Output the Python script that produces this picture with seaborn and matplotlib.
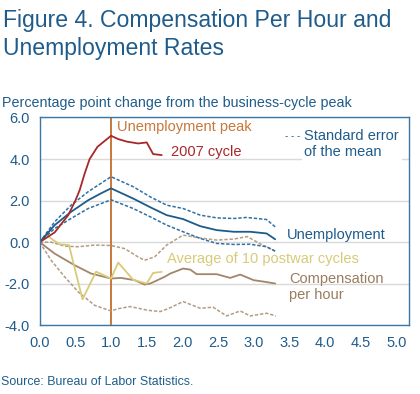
import matplotlib
matplotlib.use("Agg")
import matplotlib.pyplot as plt
import seaborn as sns

# unemployment, 2007 cycle
red_x = [0, 0.21, 0.40, 0.50, 0.56, 0.63, 0.70, 0.81, 1.0, 1.10, 1.22, 1.38, 1.50, 1.59, 1.71]
red_y = [0, 0.47, 1.30, 2.00, 2.50, 3.30, 4.00, 4.59, 5.12, 4.96, 4.84, 4.75, 4.80, 4.24, 4.19]

# unemployment, average of 10 postwar cycles (+/- standard error)
unemp_x = [0, 0.21, 0.44, 0.68, 0.86, 1.0, 1.31, 1.55, 1.78, 2.01, 2.25, 2.48, 2.72, 2.95, 3.18, 3.30]
unemp_y = [0, 0.82, 1.46, 2.02, 2.35, 2.59, 2.10, 1.68, 1.30, 1.11, 0.77, 0.58, 0.50, 0.50, 0.42, 0.14]
unemp_hi_x = [0, 0.21, 0.44, 0.68, 1.0, 1.31, 1.55, 1.78, 2.01, 2.25, 2.48, 2.72, 2.90, 3.18, 3.30]
unemp_hi_y = [0, 0.98, 1.78, 2.43, 3.15, 2.67, 2.18, 1.78, 1.62, 1.30, 1.17, 1.14, 1.19, 1.09, 0.74]
unemp_lo_x = [0, 0.21, 0.44, 0.68, 1.0, 1.31, 1.55, 1.78, 2.01, 2.25, 2.48, 2.72, 2.95, 3.18, 3.30]
unemp_lo_y = [0, 0.66, 1.14, 1.62, 2.04, 1.62, 1.22, 0.82, 0.50, 0.18, -0.06, -0.11, -0.10, -0.22, -0.43]

# compensation per hour, 2007 cycle
yel_x = [0, 0.09, 0.19, 0.28, 0.41, 0.60, 0.79, 1.0, 1.10, 1.31, 1.50, 1.59, 1.71]
yel_y = [0, 0.36, 0.10, -0.10, -0.14, -2.75, -1.42, -1.75, -0.98, -1.81, -1.99, -1.48, -1.43]

# compensation per hour, average (+/- standard error)
comp_x = [0, 0.21, 0.49, 0.72, 1.0, 1.14, 1.33, 1.47, 1.55, 1.75, 1.83, 2.01, 2.11, 2.20, 2.48, 2.67, 2.81, 3.0, 3.16, 3.30]
comp_y = [0, -0.55, -1.11, -1.51, -1.75, -1.72, -1.83, -2.04, -1.99, -1.67, -1.51, -1.27, -1.32, -1.54, -1.54, -1.72, -1.56, -1.83, -1.91, -1.99]
comp_hi_x = [0, 0.16, 0.35, 0.54, 0.77, 1.0, 1.19, 1.38, 1.47, 1.61, 1.78, 2.01, 2.25, 2.48, 2.72, 2.91, 3.09, 3.30]
comp_hi_y = [0, 0.0, -0.19, -0.22, -0.14, -0.16, -0.31, -0.71, -0.87, -0.71, -0.14, 0.34, 0.20, 0.10, 0.15, 0.27, -0.08, -0.43]
comp_lo_x = [0, 0.16, 0.35, 0.54, 0.77, 1.0, 1.10, 1.27, 1.52, 1.69, 1.80, 2.01, 2.25, 2.43, 2.62, 2.81, 2.95, 3.18, 3.31]
comp_lo_y = [0, -0.87, -1.67, -2.39, -3.04, -3.31, -3.20, -3.10, -3.28, -3.34, -3.20, -2.86, -3.18, -3.13, -3.55, -3.31, -3.55, -3.42, -3.55]

x_ticks = [0.0, 0.5, 1.0, 1.5, 2.0, 2.5, 3.0, 3.5, 4.0, 4.5, 5.0]
y_ticks = [-4.0, -2.0, 0.0, 2.0, 4.0, 6.0]

BLUE_TXT = "#1f5c8b"
SPINE = "#3a76a6"
RED = "#a8282a"
ORANGE = "#c8783a"
BLUE = "#1d5b8a"
BLUE_D = "#2f70a6"
YELLOW = "#d8cb78"
BROWN = "#a2866a"
BROWN_D = "#b39c82"

sns.set_style("white")
plt.rcParams["font.family"] = ["Liberation Sans", "DejaVu Sans"]

fig = plt.figure(figsize=(4.2, 3.94), dpi=100)
ax = fig.add_axes([0.0945, 0.1744, 0.88, 0.5274])

dash = (0, (2.2, 1.2))
ax.axvline(1.0, color=ORANGE, lw=1.4, zorder=1)
sns.lineplot(x=comp_lo_x, y=comp_lo_y, ax=ax, color=BROWN_D, lw=1.1, linestyle=dash)
sns.lineplot(x=comp_hi_x, y=comp_hi_y, ax=ax, color=BROWN_D, lw=1.1, linestyle=dash)
sns.lineplot(x=comp_x, y=comp_y, ax=ax, color=BROWN, lw=1.3)
sns.lineplot(x=yel_x, y=yel_y, ax=ax, color=YELLOW, lw=1.3)
sns.lineplot(x=unemp_hi_x, y=unemp_hi_y, ax=ax, color=BLUE_D, lw=1.1, linestyle=dash)
sns.lineplot(x=unemp_lo_x, y=unemp_lo_y, ax=ax, color=BLUE_D, lw=1.1, linestyle=dash)
sns.lineplot(x=unemp_x, y=unemp_y, ax=ax, color=BLUE, lw=1.3)
sns.lineplot(x=red_x, y=red_y, ax=ax, color=RED, lw=1.3)

ax.set_xlim(0, 5.18)
ax.set_ylim(-4, 6)
ax.set_xticks(x_ticks)
ax.set_yticks(y_ticks)
ax.set_xticklabels([f"{v:.1f}" for v in x_ticks])
ax.set_yticklabels([f"{v:.1f}" for v in y_ticks])
ax.tick_params(direction="in", length=5, width=1, color=SPINE, labelcolor=BLUE_TXT,
               labelsize=10.5)
ax.tick_params(axis="x", pad=8)
ax.tick_params(axis="y", pad=7)
ax.yaxis.grid(True, color="#d9d9d9", lw=1)
ax.set_axisbelow(True)
for s in ax.spines.values():
    s.set_color(SPINE)
    s.set_linewidth(1)
ax.set_xlabel("")
ax.set_ylabel("")

# labels inside the plot
fs = 10.5
ax.text(1.08, 5.52, "Unemployment peak", color=ORANGE, fontsize=fs, va="center")
ax.text(1.835, 4.32, "2007 cycle", color=RED, fontsize=fs, va="center")
ax.text(3.44, 5.12, "- - -", color=BLUE_TXT, fontsize=7, va="center")
ax.text(3.71, 4.72, "Standard error\nof the mean", color=BLUE_TXT, fontsize=fs, va="center",
        linespacing=1.15, bbox=dict(facecolor="white", edgecolor="none", pad=2))
ax.text(3.47, 0.33, "Unemployment", color=BLUE_TXT, fontsize=fs, va="center")
ax.text(1.786, -0.79, "Average of 10 postwar cycles", color=YELLOW, fontsize=fs, va="center")
ax.text(3.495, -2.14, "Compensation\nper hour", color="#9a7c5e", fontsize=fs, va="center",
        linespacing=1.2)

fig.text(0.007, 1 - 27.3 / 394, "Figure 4. Compensation Per Hour and", color=BLUE_TXT,
         fontsize=16.6, va="baseline")
fig.text(0.007, 1 - 55 / 394, "Unemployment Rates", color=BLUE_TXT, fontsize=16.6, va="baseline")
fig.text(0.004, 1 - 107.3 / 394, "Percentage point change from the business-cycle peak",
         color=BLUE_TXT, fontsize=10.3, va="baseline")
fig.text(0.003, 1 - 385 / 394, "Source: Bureau of Labor Statistics.", color=BLUE_TXT,
         fontsize=8.9, va="baseline")

fig.savefig("out.png", dpi=100)
